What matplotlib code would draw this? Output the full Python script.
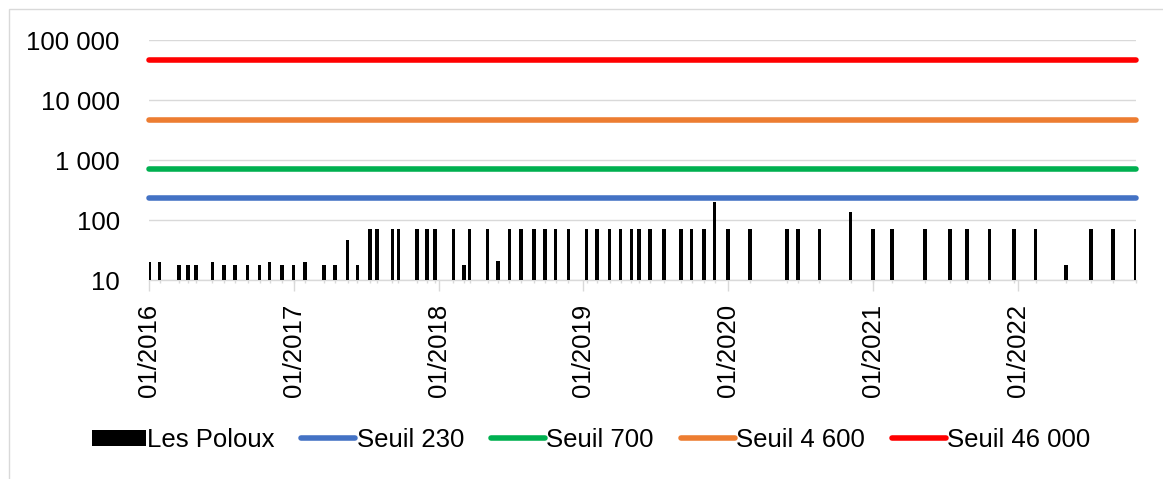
import numpy as np
import matplotlib
matplotlib.use("Agg")
import matplotlib.pyplot as plt
import matplotlib.dates as mdates
from matplotlib.patches import Rectangle
from matplotlib.ticker import FuncFormatter

# --- DATA --- #
dates = ["2016-01-01", "2016-01-28", "2016-03-17", "2016-04-08", "2016-04-28",
         "2016-06-09", "2016-07-08", "2016-08-05", "2016-09-06", "2016-10-06",
         "2016-10-31", "2016-12-01", "2016-12-31", "2017-01-28", "2017-03-17",
         "2017-04-14", "2017-05-16", "2017-06-10", "2017-07-11", "2017-07-29",
         "2017-09-06", "2017-09-21", "2017-11-07", "2017-12-03", "2017-12-22",
         "2018-02-07", "2018-03-06", "2018-03-20", "2018-05-04", "2018-05-30",
         "2018-06-28", "2018-07-27", "2018-08-29", "2018-09-26", "2018-10-23",
         "2018-11-24", "2019-01-09", "2019-02-04", "2019-03-08", "2019-04-05",
         "2019-05-02", "2019-05-21", "2019-06-18", "2019-07-23", "2019-09-04",
         "2019-10-01", "2019-11-01", "2019-11-28", "2020-01-01", "2020-02-25",
         "2020-05-28", "2020-06-25", "2020-08-18", "2020-11-05", "2020-12-31",
         "2021-02-17", "2021-05-12", "2021-07-14", "2021-08-25", "2021-10-21",
         "2021-12-22", "2022-02-15", "2022-05-03", "2022-07-04", "2022-08-29",
         "2022-10-26"]
poloux = [20, 20, 18, 18, 18, 20, 18, 18, 18, 18,
          20, 18, 18, 20, 18, 18, 46, 18, 70, 70,
          70, 70, 70, 70, 70, 70, 18, 70, 70, 21,
          70, 70, 70, 70, 70, 70, 70, 70, 70, 70,
          70, 70, 70, 70, 70, 70, 70, 200, 70, 70,
          70, 70, 70, 135, 70, 70, 70, 70, 70, 70,
          70, 70, 18, 70, 70, 70]

seuil_labels = ["Seuil 230", "Seuil 700", "Seuil 4 600", "Seuil 46 000"]
seuil_values = [230, 700, 4600, 46000]
seuil_colors = ["#4472C4", "#00B050", "#ED7D31", "#FF0000"]
y_ticks = [10, 100, 1000, 10000, 100000]
# ------------ #

plt.rcParams["font.family"] = ["Liberation Sans", "DejaVu Sans"]
fsize = 18.5
grey = "#d9d9d9"

x = np.array(dates, dtype="datetime64[D]")

fig = plt.figure(figsize=(11.63, 4.79), dpi=100)
ax = fig.add_axes([149 / 1163, 1 - 280 / 479, (1136 - 149) / 1163, 240 / 479])

ax.bar(x, poloux, width=9, color="black", bottom=0, label="Les Poloux", zorder=3)
for val, lab, col in zip(seuil_values, seuil_labels, seuil_colors):
    ax.axhline(val, color=col, lw=4, solid_capstyle="round", label=lab, zorder=4,
               clip_on=False)

ax.set_yscale("log")
ax.set_ylim(10, 100000)
ax.set_yticks(y_ticks)
ax.yaxis.set_major_formatter(FuncFormatter(lambda v, p: f"{v:,.0f}".replace(",", " ")))
ax.yaxis.set_minor_locator(plt.NullLocator())
ax.grid(axis="y", color=grey, lw=1)
ax.set_axisbelow(True)

ax.set_xlim(x[0], x[-1])
ax.xaxis.set_major_locator(mdates.YearLocator())
ax.xaxis.set_major_formatter(mdates.DateFormatter("%m/%Y"))
ax.set_xticks(x, minor=True)
ax.tick_params(axis="x", which="major", length=8, width=1, color=grey, pad=9,
               labelsize=fsize, rotation=90)
ax.tick_params(axis="x", which="minor", length=2, width=1, color=grey)
ax.tick_params(axis="y", length=0, pad=21, labelsize=fsize)

for s in ["top", "right", "left"]:
    ax.spines[s].set_visible(False)
ax.spines["bottom"].set_color(grey)
ax.spines["bottom"].set_linewidth(1)

handles, labels = ax.get_legend_handles_labels()
order = [labels.index("Les Poloux")] + [labels.index(l) for l in seuil_labels]
fig.legend([handles[i] for i in order], [labels[i] for i in order],
           loc="center", bbox_to_anchor=(591 / 1163, 1 - 440 / 479), ncol=5,
           frameon=False, fontsize=fsize, handlelength=2.1, handletextpad=0.05,
           columnspacing=1.05, handleheight=0.6)

fig.add_artist(Rectangle((9 / 1163, -0.1), 1.2, 1.1 - 9 / 479, transform=fig.transFigure,
                         fill=False, edgecolor=grey, lw=1))

fig.savefig("out.png", dpi=100)
